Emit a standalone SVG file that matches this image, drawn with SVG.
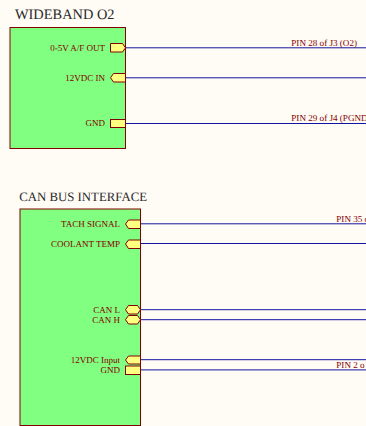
<svg xmlns="http://www.w3.org/2000/svg" width="366" height="426" viewBox="0 0 366 426">
<style>
text{text-rendering:geometricPrecision;font-family:"Liberation Serif",serif}
.bg{fill:#fffbf5}
.box{fill:#80ff80;stroke:#840000;stroke-width:1}
.pin{fill:#ffff80;stroke:#840000;stroke-width:1}
.wire{stroke:#1414a0;stroke-width:1;fill:none}
.title{fill:#2a2a2a}
.lab{font-size:9px;fill:#840000;text-anchor:end}
.net{font-size:9.1px;fill:#840000}
</style>
<rect class="bg" width="366" height="426"/>
<g id="connectors">
<path class="wire" d="M125.500 47.800H366M125.500 77.800H366M125.500 123.500H366M140.500 223.800H366M140.500 243.500H366M140.500 309.700H366M140.500 319.700H366M140.500 359.700H366M140.500 369.900H366"/>
<text class="net" x="291.300" y="45.700">PIN 28 of J3 (O2)</text>
<text class="net" x="291.300" y="120.700">PIN 29 of J4 (PGND</text>
<text class="net" x="336.300" y="222">PIN 35 o</text>
<text class="net" x="336.300" y="368">PIN 2 o</text>
</g>
<g id="wideband-o2">
<text class="title" font-size="14.400" x="15" y="19">WIDEBAND O2</text>
<rect class="box" x="10" y="27.500" width="115.500" height="121"/>
<path class="pin" d="M110.500 43.500H122.500L125.500 47.800L122.500 52H110.500Z"/>
<text class="lab" x="105" y="51">0-5V A/F OUT</text>
<path class="pin" d="M125.500 73.500H113.500L110.500 77.800L113.500 82H125.500Z"/>
<text class="lab" x="105" y="81">12VDC IN</text>
<rect class="pin" x="110.500" y="119.500" width="15" height="8"/>
<text class="lab" x="105" y="126">GND</text>
</g>
<g id="can-bus-interface">
<text class="title" font-size="12.800" x="19.300" y="201">CAN BUS INTERFACE</text>
<rect class="box" x="20" y="209" width="120.500" height="216.500"/>
<path class="pin" d="M140.500 220H128.500L125.500 224L128.500 228.500H140.500Z"/>
<text class="lab" x="120" y="227.300">TACH SIGNAL</text>
<path class="pin" d="M140.500 240H128.500L125.500 244L128.500 248.500H140.500Z"/>
<text class="lab" x="120" y="247">COOLANT TEMP</text>
<path class="pin" d="M128.500 305.500H137.500L140.500 309.700L137.500 314H128.500L125.500 309.700Z"/>
<text class="lab" x="120" y="313">CAN L</text>
<path class="pin" d="M128.500 315.500H137.500L140.500 319.700L137.500 324H128.500L125.500 319.700Z"/>
<text class="lab" x="120" y="323">CAN H</text>
<path class="pin" d="M140.500 356H128.500L125.500 360L128.500 364H140.500Z"/>
<text class="lab" x="120" y="363">12VDC Input</text>
<rect class="pin" x="125.500" y="366" width="15" height="8.500"/>
<text class="lab" x="120" y="373">GND</text>
</g>
</svg>
